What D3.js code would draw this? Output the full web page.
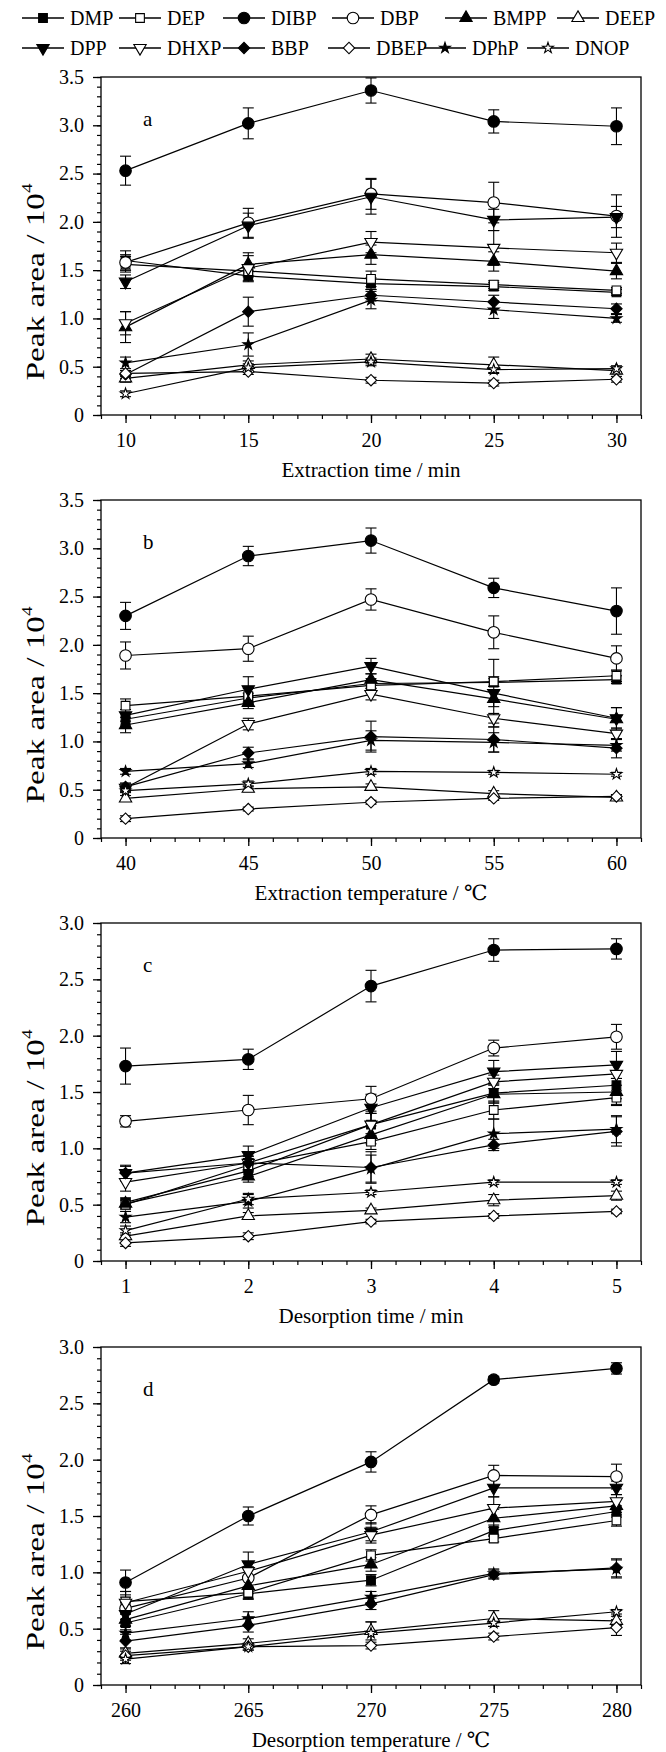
<!DOCTYPE html>
<html><head><meta charset="utf-8">
<script src="https://cdn.jsdelivr.net/npm/d3@7"></script>
<style>
html,body{margin:0;padding:0;background:#fff;}
svg{display:block;}
text{font-family:"Liberation Serif","Times New Roman","DejaVu Serif",serif;fill:#000;}
</style></head>
<body>
<svg id="chart" width="666" height="1752"></svg>
<script>
// ---------- data ----------
const seriesNames = ["DMP","DEP","DIBP","DBP","BMPP","DEEP","DPP","DHXP","BBP","DBEP","DPhP","DNOP"];
const seriesFilled = [true,false,true,false,true,false,true,false,true,false,true,false];
const seriesShapes = ["square","square","circle","circle","triUp","triUp","triDown","triDown","diamond","diamond","star","star"];

const panelLetters = ["a","b","c","d"];
const xTitles = ["Extraction time / min","Extraction temperature / \u2103","Desorption time / min","Desorption temperature / \u2103"];
const xTicksA = [10,15,20,25,30];
const xTicksB = [40,45,50,55,60];
const xTicksC = [1,2,3,4,5];
const xTicksD = [260,265,270,275,280];
const yTicks35 = [0,0.5,1.0,1.5,2.0,2.5,3.0,3.5];
const yTicks30 = [0,0.5,1.0,1.5,2.0,2.5,3.0];

// values in series order (Peak area / 10^4)
const valuesA = [
 [1.60,1.44,1.36,1.33,1.27],[1.56,1.49,1.41,1.35,1.29],[2.53,3.02,3.36,3.04,2.99],[1.58,1.99,2.29,2.20,2.06],
 [0.91,1.56,1.66,1.59,1.49],[0.38,0.52,0.58,0.52,0.46],[1.38,1.96,2.26,2.02,2.05],[0.95,1.52,1.79,1.73,1.68],
 [0.42,1.07,1.24,1.17,1.10],[0.43,0.45,0.36,0.33,0.37],[0.54,0.73,1.19,1.09,1.00],[0.22,0.49,0.55,0.47,0.48]];
const errorsA = [
 [.10,.06,.06,.04,.03],[.08,.06,.08,.04,.03],[.15,.16,.13,.12,.19],[.08,.15,.16,.21,.22],
 [.16,.12,.10,.10,.08],[.04,.04,.05,.08,.03],[.07,.13,.18,.11,.11],[.12,.13,.11,.18,.10],
 [.04,.15,.06,.07,.05],[.03,.03,.03,.03,.03],[.06,.12,.09,.09,.04],[.03,.04,.04,.04,.03]];
const valuesB = [
 [1.23,1.45,1.60,1.61,1.64],[1.37,1.47,1.58,1.62,1.68],[2.30,2.92,3.08,2.59,2.35],[1.89,1.96,2.47,2.13,1.86],
 [1.17,1.40,1.64,1.44,1.23],[0.41,0.51,0.53,0.46,0.42],[1.27,1.54,1.78,1.50,1.24],[0.52,1.18,1.49,1.24,1.08],
 [0.53,0.88,1.05,1.02,0.93],[0.20,0.30,0.37,0.41,0.43],[0.69,0.77,1.01,0.99,0.96],[0.49,0.56,0.69,0.68,0.66]];
const errorsB = [
 [.06,.05,.05,.04,.04],[.07,.08,.05,.05,.06],[.14,.10,.13,.10,.24],[.14,.13,.11,.17,.13],
 [.08,.06,.06,.08,.12],[.03,.03,.03,.03,.03],[.06,.13,.08,.35,.11],[.04,.06,.06,.05,.06],
 [.04,.06,.16,.13,.10],[.03,.02,.02,.02,.02],[.03,.04,.10,.10,.06],[.02,.03,.03,.02,.02]];
const valuesC = [
 [0.52,0.80,1.21,1.49,1.56],[0.50,0.85,1.06,1.34,1.45],[1.73,1.79,2.44,2.76,2.77],[1.24,1.34,1.44,1.89,1.99],
 [0.51,0.75,1.12,1.48,1.50],[0.22,0.40,0.45,0.54,0.58],[0.78,0.94,1.36,1.68,1.74],[0.70,0.87,1.21,1.59,1.66],
 [0.78,0.87,0.83,1.03,1.15],[0.16,0.22,0.35,0.40,0.44],[0.39,0.53,0.82,1.13,1.17],[0.27,0.55,0.61,0.70,0.70]];
const errorsC = [
 [.04,.05,.10,.08,.12],[.04,.06,.07,.08,.06],[.16,.09,.14,.10,.09],[.05,.13,.11,.07,.11],
 [.04,.05,.08,.08,.12],[.03,.03,.02,.05,.04],[.07,.08,.12,.10,.12],[.08,.06,.10,.06,.10],
 [.06,.06,.14,.05,.13],[.03,.03,.02,.02,.02],[.05,.06,.12,.13,.12],[.04,.05,.02,.02,.02]];
const valuesD = [
 [0.55,0.81,0.93,1.37,1.54],[0.74,0.82,1.15,1.30,1.46],[0.91,1.50,1.98,2.71,2.81],[0.68,0.95,1.51,1.86,1.85],
 [0.58,0.88,1.07,1.48,1.59],[0.28,0.37,0.48,0.59,0.57],[0.63,1.07,1.36,1.75,1.75],[0.73,1.01,1.33,1.57,1.63],
 [0.39,0.53,0.72,0.98,1.04],[0.26,0.34,0.35,0.43,0.51],[0.46,0.59,0.78,0.99,1.03],[0.23,0.34,0.46,0.55,0.65]];
const errorsD = [
 [.08,.05,.05,.05,.05],[.09,.05,.05,.03,.05],[.11,.08,.09,.03,.05],[.10,.10,.08,.09,.11],
 [.09,.07,.06,.08,.06],[.04,.04,.08,.07,.04],[.10,.11,.08,.08,.06],[.10,.08,.07,.10,.06],
 [.06,.06,.05,.04,.08],[.04,.03,.03,.03,.07],[.06,.06,.05,.04,.08],[.04,.03,.10,.03,.02]];

// ---------- layout ----------
const FONT = "'Liberation Serif','Times New Roman','DejaVu Serif',serif";
const svg = d3.select("#chart");
const L = 101, R = 641, PH = 338;
const panelTops = [77, 500, 923, 1347];
const panels = [
  {xt: xTicksA, xd: [9,31], yt: yTicks35, ymax: 3.5, vals: valuesA, errs: errorsA},
  {xt: xTicksB, xd: [39,61], yt: yTicks35, ymax: 3.5, vals: valuesB, errs: errorsB},
  {xt: xTicksC, xd: [0.8,5.2], yt: yTicks30, ymax: 3.0, vals: valuesC, errs: errorsC},
  {xt: xTicksD, xd: [259,281], yt: yTicks30, ymax: 3.0, vals: valuesD, errs: errorsD}
];

function symPath(shape){
  const s = d3.symbol();
  switch(shape){
    case "square": return {d: s.type(d3.symbolSquare).size(76)(), rot: 0};
    case "circle": return {d: s.type(d3.symbolCircle).size(105)(), rot: 0};
    case "triUp": return {d: s.type(d3.symbolTriangle).size(66)(), rot: 0};
    case "triDown": return {d: s.type(d3.symbolTriangle).size(66)(), rot: 180};
    case "diamond": return {d: s.type(d3.symbolSquare).size(64)(), rot: 45};
    case "star": return {d: s.type(d3.symbolStar).size(36)(), rot: 0};
  }
}
function drawMarker(g, cx, cy, i){
  const p = symPath(seriesShapes[i]);
  g.append("path").attr("d", p.d)
   .attr("transform", `translate(${cx},${cy}) rotate(${p.rot})`)
   .attr("fill", seriesFilled[i] ? "#000" : "#fff")
   .attr("stroke", "#000").attr("stroke-width", 1.1);
}

panels.forEach((P, pi) => {
  const top = panelTops[pi];
  const x = d3.scaleLinear().domain(P.xd).range([L, R]);
  const y = d3.scaleLinear().domain([0, P.ymax]).range([top + PH, top]);
  const g = svg.append("g");

  // frame
  g.append("rect").attr("x", L).attr("y", top).attr("width", R - L).attr("height", PH)
    .attr("fill", "none").attr("stroke", "#000").attr("stroke-width", 1.3);

  // minor ticks
  const step = P.xt[1] - P.xt[0];
  const xMinor = d3.range(0, 200).map(k => +(P.xd[0] + k * step / 5).toFixed(4)).filter(v => v <= P.xd[1] + 1e-6);
  const yMinor = d3.range(0, Math.round(P.ymax * 10) + 1).map(k => k / 10);
  g.append("g").attr("transform", `translate(0,${top + PH})`)
    .call(d3.axisBottom(x).tickValues(xMinor).tickSize(4).tickFormat(""))
    .call(a => a.select(".domain").remove())
    .call(a => a.selectAll("line").attr("stroke-width", 1.2));
  g.append("g").attr("transform", `translate(${L},0)`)
    .call(d3.axisLeft(y).tickValues(yMinor).tickSize(4).tickFormat(""))
    .call(a => a.select(".domain").remove())
    .call(a => a.selectAll("line").attr("stroke-width", 1.2));

  // major ticks
  g.append("g").attr("transform", `translate(0,${top + PH})`)
    .call(d3.axisBottom(x).tickValues(P.xt).tickSize(8).tickPadding(10).tickFormat(d3.format("d")))
    .call(a => a.select(".domain").remove())
    .call(a => a.selectAll("line").attr("stroke-width", 1.3))
    .call(a => a.selectAll("text").attr("font-size", 20).style("font-family", FONT));
  g.append("g").attr("transform", `translate(${L},0)`)
    .call(d3.axisLeft(y).tickValues(P.yt).tickSize(8).tickPadding(9).tickFormat(d => d === 0 ? "0" : d.toFixed(1)))
    .call(a => a.select(".domain").remove())
    .call(a => a.selectAll("line").attr("stroke-width", 1.3))
    .call(a => a.selectAll("text").attr("font-size", 20).style("font-family", FONT));

  // panel letter
  g.append("text").attr("x", 143).attr("y", top + 49).attr("font-size", 21).style("font-family", FONT).text(panelLetters[pi]);

  // x title
  g.append("text").attr("x", (L + R) / 2).attr("y", top + PH + 62).attr("text-anchor", "middle")
    .attr("font-size", 21).style("font-family", FONT).text(xTitles[pi]);

  // y title
  const yt = g.append("text")
    .attr("transform", `translate(44,${top + PH / 2 + 36}) rotate(-90) scale(1.28,1)`)
    .attr("text-anchor", "middle").attr("font-size", 26).style("font-family", FONT);
  yt.append("tspan").text("Peak area / 10");
  yt.append("tspan").attr("font-size", 15).attr("dy", -12).text("4");

  // lines
  const line = d3.line().x((d, k) => x(P.xt[k])).y(d => y(d));
  P.vals.forEach((vals) => {
    g.append("path").attr("d", line(vals)).attr("fill", "none").attr("stroke", "#000").attr("stroke-width", 1.2);
  });
  // error bars
  P.vals.forEach((vals, si) => {
    vals.forEach((v, k) => {
      const e = P.errs[si][k];
      const cx = x(P.xt[k]);
      g.append("line").attr("x1", cx).attr("x2", cx).attr("y1", y(v - e)).attr("y2", y(v + e)).attr("stroke", "#000").attr("stroke-width", 1.1);
      [v - e, v + e].forEach(t => g.append("line").attr("x1", cx - 5.5).attr("x2", cx + 5.5).attr("y1", y(t)).attr("y2", y(t)).attr("stroke", "#000").attr("stroke-width", 1.1));
    });
  });
  // markers
  P.vals.forEach((vals, si) => {
    vals.forEach((v, k) => drawMarker(g, x(P.xt[k]), y(v), si));
  });
});

// ---------- legend ----------
const legendRowY = [18, 48];
const legendTextX = [[70,167,271,380,493,605],[70,167,271,376,472,575]];
seriesNames.forEach((name, i) => {
  const row = Math.floor(i / 6), col = i % 6;
  const tx = legendTextX[row][col];
  const cy = legendRowY[row];
  const lx0 = tx - 48, lx1 = tx - 6;
  svg.append("line").attr("x1", lx0).attr("x2", lx1).attr("y1", cy).attr("y2", cy).attr("stroke", "#000").attr("stroke-width", 1.4);
  drawMarker(svg, (lx0 + lx1) / 2, cy, i);
  svg.append("text").attr("x", tx).attr("y", cy + 7).attr("font-size", 20).style("font-family", FONT).text(name);
});
</script>
</body></html>
